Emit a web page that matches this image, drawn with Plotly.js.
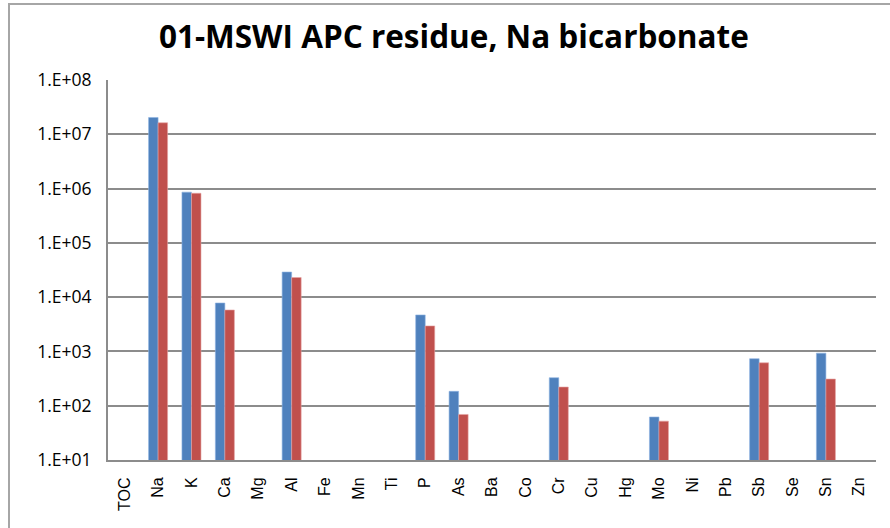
<!DOCTYPE html>
<html>
<head>
<meta charset="utf-8">
<script src="https://cdn.plot.ly/plotly-3.0.1.min.js"></script>
<style>
html,body{margin:0;padding:0;background:#fff;}
#frame{position:absolute;left:8px;top:3px;width:900px;height:600px;border-left:2px solid #a6a6a6;border-top:2px solid #a6a6a6;box-sizing:border-box;}
#chart{position:absolute;left:0;top:0;width:890px;height:528px;}
</style>
</head>
<body>
<div id="frame"></div>
<div id="chart"></div>
<script>
const categories = ["TOC","Na","K","Ca","Mg","Al","Fe","Mn","Ti","P","As","Ba","Co","Cr","Cu","Hg","Mo","Ni","Pb","Sb","Se","Sn","Zn"];
const seriesBlue = [null,2.04e7,8.6e5,7.8e3,null,2.9e4,null,null,null,4.7e3,184,null,null,328,null,null,62,null,null,735,null,930,null];
const seriesRed  = [null,1.63e7,8.2e5,5.8e3,null,2.3e4,null,null,null,2.95e3,69,null,null,221,null,null,52,null,null,617,null,310,null];
const tickVals = [1e1,1e2,1e3,1e4,1e5,1e6,1e7,1e8];
const tickText = ["1.E+01","1.E+02","1.E+03","1.E+04","1.E+05","1.E+06","1.E+07","1.E+08"];

const traces = [
  {type:'bar', x:categories, y:seriesBlue, name:'Series 1',
   marker:{color:'#4F81BD', line:{color:'#8EB4E3', width:0.6}}},
  {type:'bar', x:categories, y:seriesRed, name:'Series 2',
   marker:{color:'#C0504D', line:{color:'#E6A5A4', width:0.6}}}
];

const layout = {
  width:890, height:528,
  paper_bgcolor:'rgba(0,0,0,0)', plot_bgcolor:'rgba(0,0,0,0)',
  margin:{l:108, r:14, t:80, b:68, pad:0},
  showlegend:false,
  barmode:'group', bargap:0.43, bargroupgap:0,
  title:{text:'<b>01-MSWI APC residue, Na bicarbonate</b>', x:0.51, xanchor:'center', y:0.93, yanchor:'middle',
         font:{family:'Open Sans', size:31.5, color:'#000'}},
  font:{family:'Open Sans', color:'#000'},
  xaxis:{type:'category', tickangle:-90, tickfont:{family:'Liberation Sans', size:16, color:'#000'},
         showline:true, linecolor:'#8c8c8c', linewidth:2, showgrid:false, ticks:'',
         ticklabelstandoff:9},
  yaxis:{type:'log', range:[1,8], tickvals:tickVals, ticktext:tickText,
         tickfont:{family:'Open Sans', size:17.5, color:'#000'},
         showline:true, linecolor:'#8c8c8c', linewidth:2,
         showgrid:true, gridcolor:'#8c8c8c', gridwidth:2, ticks:'', ticklabelstandoff:11,
         zeroline:false}
};

Plotly.newPlot('chart', traces, layout, {displayModeBar:false, staticPlot:true});
</script>
</body>
</html>
